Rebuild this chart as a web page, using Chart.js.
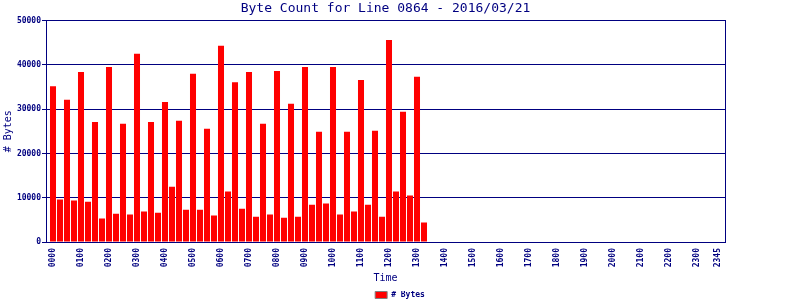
<!DOCTYPE html>
<html>
<head>
<meta charset="utf-8">
<style>
  html, body { margin: 0; padding: 0; background: #fff; }
  #wrap { width: 800px; height: 300px; }
</style>
<script src="https://cdn.jsdelivr.net/npm/chart.js@4"></script>
</head>
<body>
<div id="wrap"><canvas id="bytesChart" width="800" height="300"></canvas></div>
<script>
// 15 minute slots over the day
const times = [
  '0000','0015','0030','0045','0100','0115','0130','0145','0200','0215','0230','0245',
  '0300','0315','0330','0345','0400','0415','0430','0445','0500','0515','0530','0545',
  '0600','0615','0630','0645','0700','0715','0730','0745','0800','0815','0830','0845',
  '0900','0915','0930','0945','1000','1015','1030','1045','1100','1115','1130','1145',
  '1200','1215','1230','1245','1300','1315','1330','1345','1400','1415','1430','1445',
  '1500','1515','1530','1545','1600','1615','1630','1645','1700','1715','1730','1745',
  '1800','1815','1830','1845','1900','1915','1930','1945','2000','2015','2030','2045',
  '2100','2115','2130','2145','2200','2215','2230','2245','2300','2315','2330','2345'
];

// bytes per slot (only up to 1315 has data)
const byteCounts = [
  35200, 9600, 32100, 9350, 38400, 9100, 27100, 5300, 39500, 6400, 26700, 6200,
  42500, 6900, 27100, 6600, 31600, 12500, 27400, 7300, 38000, 7300, 25600, 6000,
  44300, 11400, 36100, 7500, 38400, 5700, 26700, 6200, 38600, 5500, 31200, 5700,
  39500, 8400, 24900, 8700, 39500, 6200, 24900, 6900, 36600, 8400, 25100, 5700,
  45600, 11400, 29400, 10500, 37300, 4400
];

const xTickLabels = ['0000','0100','0200','0300','0400','0500','0600','0700','0800','0900',
  '1000','1100','1200','1300','1400','1500','1600','1700','1800','1900','2000','2100',
  '2200','2300','2345'];
const yTicks = [0, 10000, 20000, 30000, 40000, 50000];

const NAVY = '#000080';
const monoFont = "'DejaVu Sans Mono', 'Liberation Mono', monospace";

const tickIdx = xTickLabels.map(t => times.indexOf(t));

new Chart(document.getElementById('bytesChart').getContext('2d'), {
    type: 'bar',
    data: {
        datasets: [{
            label: '# Bytes',
            data: byteCounts.map((v, i) => ({ x: i, y: v })),
            backgroundColor: '#ff0000',
            borderWidth: 0,
            barPercentage: 1,
            categoryPercentage: 0.86
        }]
    },
    options: {
        responsive: false,
        animation: false,
        layout: { padding: { left: 0, right: 0, top: 0, bottom: -9 } },
        plugins: {
            title: {
                display: true,
                text: 'Byte Count for Line 0864 - 2016/03/21',
                color: NAVY,
                fullSize: false,
                font: { family: monoFont, size: 13, weight: 'normal' },
                padding: { top: 1, bottom: 4 }
            },
            legend: {
                position: 'bottom',
                labels: {
                    boxWidth: 12,
                    boxHeight: 7,
                    padding: 0,
                    color: NAVY,
                    font: { family: monoFont, size: 8, weight: 'bold' },
                    generateLabels(chart) {
                        const items = Chart.defaults.plugins.legend.labels.generateLabels(chart);
                        items.forEach(it => { it.strokeStyle = '#808080'; it.lineWidth = 1; });
                        return items;
                    }
                }
            },
            tooltip: { enabled: false }
        },
        scales: {
            x: {
                type: 'linear',
                min: -1,
                max: 96,
                offset: false,
                grid: { display: false, drawTicks: false, offset: false },
                border: { display: true, color: NAVY, width: 1 },
                afterBuildTicks(scale) {
                    scale.ticks = tickIdx.map(v => ({ value: v }));
                },
                afterFit(scale) { scale.height = 49; },
                ticks: {
                    autoSkip: false,
                    minRotation: 90,
                    maxRotation: 90,
                    padding: 6,
                    color: NAVY,
                    font: { family: monoFont, size: 8, weight: 'bold' },
                    callback: value => times[value]
                },
                title: {
                    display: true,
                    text: 'Time',
                    color: NAVY,
                    font: { family: monoFont, size: 10, weight: 'normal' },
                    padding: { top: 0, bottom: 7 }
                }
            },
            y: {
                min: 0,
                max: 50000,
                afterBuildTicks(scale) {
                    scale.ticks = yTicks.map(v => ({ value: v }));
                },
                afterFit(scale) { scale.width = 46; },
                grid: { color: NAVY, lineWidth: 1, drawTicks: true, tickLength: 4 },
                border: { display: true, color: NAVY, width: 1 },
                ticks: {
                    padding: 1,
                    color: NAVY,
                    font: { family: monoFont, size: 8, weight: 'bold' },
                    callback: value => String(value)
                },
                title: {
                    display: true,
                    text: '# Bytes',
                    color: NAVY,
                    font: { family: monoFont, size: 10, weight: 'normal' },
                    padding: { top: 2, bottom: 0 }
                }
            },
            y2: {
                position: 'right',
                min: 0,
                max: 1,
                afterFit(scale) { scale.width = 75; },
                grid: { display: false, drawTicks: false },
                border: { display: true, color: NAVY, width: 1 },
                ticks: { display: false }
            }
        }
    }
});
</script>
</body>
</html>
